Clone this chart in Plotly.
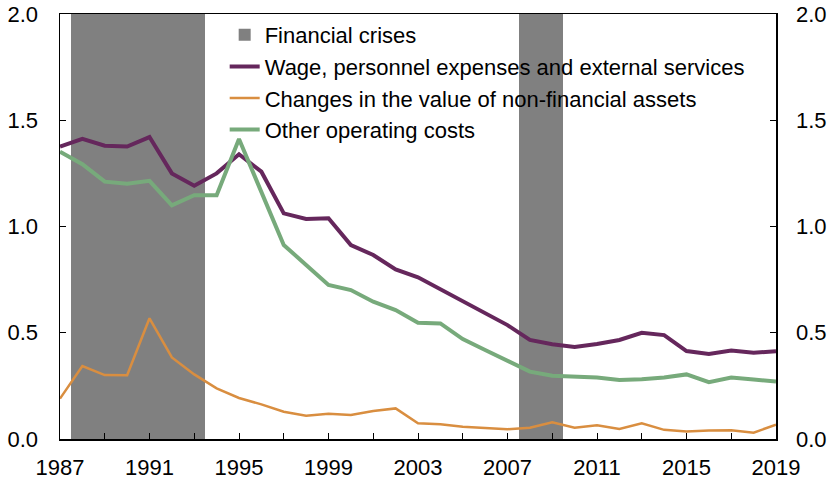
import plotly.graph_objects as go

years = list(range(1987, 2020))

wage = [1.376, 1.413, 1.380, 1.376, 1.421, 1.250, 1.192, 1.250, 1.340, 1.258,
        1.062, 1.035, 1.039, 0.913, 0.866, 0.798, 0.761, 0.704, 0.651, 0.594,
        0.536, 0.466, 0.446, 0.433, 0.447, 0.466, 0.500, 0.489, 0.414, 0.400,
        0.416, 0.406, 0.413]

nonfin = [0.190, 0.343, 0.301, 0.300, 0.568, 0.384, 0.304, 0.238, 0.193, 0.163,
          0.128, 0.110, 0.119, 0.113, 0.132, 0.144, 0.074, 0.069, 0.058, 0.053,
          0.046, 0.053, 0.079, 0.053, 0.065, 0.047, 0.074, 0.043, 0.035, 0.040,
          0.041, 0.030, 0.067]

other = [1.352, 1.293, 1.211, 1.201, 1.215, 1.100, 1.147, 1.147, 1.412, 1.165,
         0.913, 0.819, 0.725, 0.701, 0.646, 0.607, 0.547, 0.544, 0.470, 0.419,
         0.368, 0.317, 0.298, 0.295, 0.289, 0.278, 0.281, 0.289, 0.304, 0.267,
         0.289, 0.280, 0.270]

crisis_years = [1988, 1989, 1990, 1991, 1992, 1993, 2008, 2009]
crisis_height = [2.0] * len(crisis_years)

x_tickvals = list(range(1987, 2020, 2))
x_ticktext = [str(y) if (y - 1987) % 4 == 0 else "" for y in x_tickvals]
y_tickvals = [0, 0.5, 1.0, 1.5, 2.0]
y_ticktext = ["0.0", "0.5", "1.0", "1.5", "2.0"]

fig = go.Figure()
fig.add_trace(go.Bar(x=crisis_years, y=crisis_height, width=1,
                     marker=dict(color="#808080", line=dict(width=0)),
                     name="Financial crises"))
fig.add_trace(go.Scatter(x=years, y=wage, mode="lines",
                         line=dict(color="#65275C", width=4),
                         name="Wage, personnel expenses and external services"))
fig.add_trace(go.Scatter(x=years, y=nonfin, mode="lines",
                         line=dict(color="#D98E40", width=2.5),
                         name="Changes in the value of non-financial assets"))
fig.add_trace(go.Scatter(x=years, y=other, mode="lines",
                         line=dict(color="#77AA7B", width=4),
                         name="Other operating costs"))
# invisible trace for right axis
fig.add_trace(go.Scatter(x=[years[0]], y=[0], yaxis="y2", mode="markers",
                         marker=dict(opacity=0), showlegend=False, hoverinfo="skip"))

fig.update_layout(
    width=832, height=481,
    margin=dict(l=60, r=56, t=14, b=42),
    paper_bgcolor="white", plot_bgcolor="white",
    font=dict(family="Liberation Sans, Arial, sans-serif", size=22, color="black"),
    bargap=0,
    showlegend=True,
    legend=dict(x=0.230, y=1.0, xanchor="left", yanchor="top",
                bgcolor="rgba(0,0,0,0)", font=dict(size=22),
                tracegroupgap=0, itemwidth=30),
    xaxis=dict(range=[1987, 2019], tickmode="array", tickvals=x_tickvals,
               ticktext=x_ticktext, ticks="inside", ticklen=6, tickcolor="black",
               showline=True, linecolor="black", linewidth=1.5, mirror=True,
               showgrid=False, zeroline=False, ticklabelstandoff=8,
               automargin=False),
    yaxis=dict(range=[0, 2.0], tickmode="array", tickvals=y_tickvals,
               ticktext=y_ticktext, ticks="inside", ticklen=6, tickcolor="black",
               showline=True, linecolor="black", linewidth=1.5,
               showgrid=False, zeroline=False, ticklabelstandoff=16,
               automargin=False),
    yaxis2=dict(range=[0, 2.0], tickmode="array", tickvals=y_tickvals,
                ticktext=y_ticktext, ticks="inside", ticklen=6, tickcolor="black",
                overlaying="y", side="right",
                showline=True, linecolor="black", linewidth=1.5,
                showgrid=False, zeroline=False, ticklabelstandoff=14,
                automargin=False),
    hovermode=False,
)

fig.write_html("out.html",
               config={"displayModeBar": False, "staticPlot": True},
               post_script="document.body.style.margin='0';document.body.style.padding='0';")
